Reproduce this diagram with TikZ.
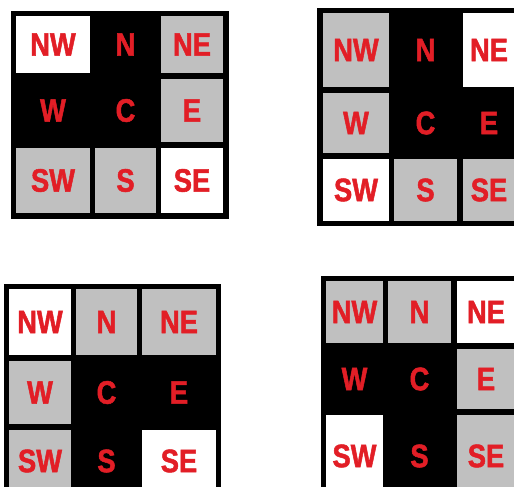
\documentclass[tikz,border=0pt]{standalone}
\usepackage{fontspec}
\setmainfont{Liberation Sans}
\newfontfamily\cellfont[FakeStretch=0.84,FakeBold=1.5]{Liberation Sans}
\usepackage{tikz}

\definecolor{cellred}{RGB}{226,30,38}
\definecolor{cellgray}{RGB}{192,192,192}

\begin{document}
\begin{tikzpicture}[
  x=1pt, y=-1pt,
  cell/.style={rectangle, inner sep=0pt, text=cellred, font=\cellfont\bfseries\fontsize{32.5}{32.5}\selectfont},
  frame/.style={fill=black}
]
\clip (0,0) rectangle (514,487);
\fill[white] (0,0) rectangle (514,487);

% Grid A (top left)
\fill[frame] (11,11) rectangle (229,219);
\node[cell, fill=white,    minimum width=74pt, minimum height=57pt] (a-nw) at (53,44.5)    {NW};
\node[cell, fill=black,    minimum width=61pt, minimum height=57pt] (a-n)  at (125.5,44.5) {N};
\node[cell, fill=cellgray, minimum width=62pt, minimum height=57pt] (a-ne) at (192,44.5)   {NE};
\node[cell, fill=black,    minimum width=74pt, minimum height=63pt] (a-w)  at (53,110.5)   {W};
\node[cell, fill=black,    minimum width=61pt, minimum height=63pt] (a-c)  at (125.5,110.5) {C};
\node[cell, fill=cellgray, minimum width=62pt, minimum height=63pt] (a-e)  at (192,110.5)  {E};
\node[cell, fill=cellgray, minimum width=74pt, minimum height=65pt] (a-sw) at (53,180.5)   {SW};
\node[cell, fill=cellgray, minimum width=61pt, minimum height=65pt] (a-s)  at (125.5,180.5) {S};
\node[cell, fill=white,    minimum width=62pt, minimum height=65pt] (a-se) at (192,180.5)  {SE};

% Grid B (top right)
\fill[frame] (317,8) rectangle (530,226);
\node[cell, fill=cellgray, minimum width=66pt, minimum height=74pt] (b-nw) at (356,50)    {NW};
\node[cell, fill=black,    minimum width=63pt, minimum height=74pt] (b-n)  at (425.5,50) {N};
\node[cell, fill=white,    minimum width=52pt, minimum height=74pt] (b-ne) at (489,50)    {NE};
\node[cell, fill=cellgray, minimum width=66pt, minimum height=60pt] (b-w)  at (356,123)   {W};
\node[cell, fill=black,    minimum width=63pt, minimum height=60pt] (b-c)  at (425.5,123) {C};
\node[cell, fill=black,    minimum width=52pt, minimum height=60pt] (b-e)  at (489,123)   {E};
\node[cell, fill=white,    minimum width=66pt, minimum height=62pt] (b-sw) at (356,190)   {SW};
\node[cell, fill=cellgray, minimum width=63pt, minimum height=62pt] (b-s)  at (425.5,190) {S};
\node[cell, fill=cellgray, minimum width=52pt, minimum height=62pt] (b-se) at (489,190)   {SE};

% Grid C (bottom left)
\fill[frame] (4,284) rectangle (221,500);
\node[cell, fill=white,    minimum width=62pt, minimum height=66pt] (c-nw) at (40,322)     {NW};
\node[cell, fill=cellgray, minimum width=61pt, minimum height=66pt] (c-n)  at (106.5,322)  {N};
\node[cell, fill=cellgray, minimum width=74pt, minimum height=66pt] (c-ne) at (179,322)    {NE};
\node[cell, fill=cellgray, minimum width=62pt, minimum height=63pt] (c-w)  at (40,392.5)   {W};
\node[cell, fill=black,    minimum width=61pt, minimum height=63pt] (c-c)  at (106.5,392.5) {C};
\node[cell, fill=black,    minimum width=74pt, minimum height=63pt] (c-e)  at (179,392.5)  {E};
\node[cell, fill=cellgray, minimum width=62pt, minimum height=62pt] (c-sw) at (40,461)     {SW};
\node[cell, fill=black,    minimum width=61pt, minimum height=62pt] (c-s)  at (106.5,461)  {S};
\node[cell, fill=white,    minimum width=74pt, minimum height=62pt] (c-se) at (179,461)    {SE};

% Grid D (bottom right)
\fill[frame] (321,276) rectangle (530,500);
\node[cell, fill=cellgray, minimum width=57pt, minimum height=62pt] (d-nw) at (354.5,312) {NW};
\node[cell, fill=cellgray, minimum width=63pt, minimum height=62pt] (d-n)  at (419.5,312) {N};
\node[cell, fill=white,    minimum width=58pt, minimum height=62pt] (d-ne) at (486,312)   {NE};
\node[cell, fill=black,    minimum width=57pt, minimum height=60pt] (d-w)  at (354.5,379) {W};
\node[cell, fill=black,    minimum width=63pt, minimum height=60pt] (d-c)  at (419.5,379) {C};
\node[cell, fill=cellgray, minimum width=58pt, minimum height=60pt] (d-e)  at (486,379)   {E};
\node[cell, fill=white,    minimum width=57pt, minimum height=82pt] (d-sw) at (354.5,456) {SW};
\node[cell, fill=black,    minimum width=63pt, minimum height=82pt] (d-s)  at (419.5,456) {S};
\node[cell, fill=cellgray, minimum width=58pt, minimum height=82pt] (d-se) at (486,456)   {SE};

\end{tikzpicture}
\end{document}
